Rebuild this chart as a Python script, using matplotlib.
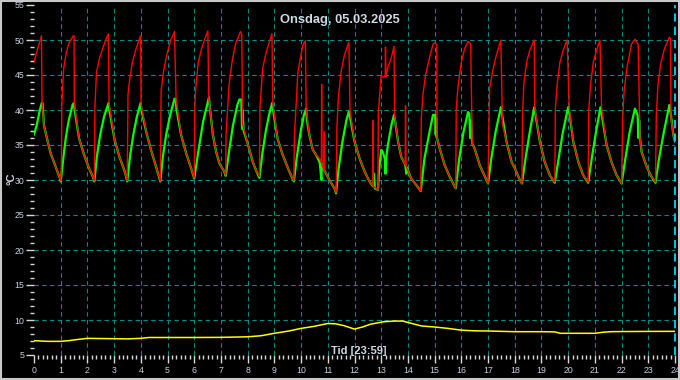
import matplotlib
matplotlib.use("Agg")
import matplotlib.pyplot as plt
from matplotlib.ticker import MultipleLocator
from matplotlib.patches import Rectangle

title = "Onsdag, 05.03.2025"
xlabel_text = "Tid [23:59]"
ylabel_text = "°C"
x_ticks = list(range(0, 25))
y_ticks = list(range(5, 56, 5))

red_t = [0.0, 0.08, 0.18, 0.28, 0.30, 0.375, 0.5, 0.625, 0.81, 0.975, 1.0,
         1.03, 1.04, 1.07, 1.11, 1.2, 1.3, 1.47, 1.50, 1.51, 1.69, 1.875, 2.06, 2.2, 2.26,
         2.28, 2.34, 2.46, 2.61, 2.78, 2.81, 3.02, 3.2, 3.4, 3.49,
         3.52, 3.56, 3.68, 3.8, 3.99, 4.01, 4.2, 4.38, 4.57, 4.73,
         4.76, 4.85, 4.98, 5.12, 5.26, 5.32, 5.51, 5.7, 5.88, 6.0,
         6.02, 6.06, 6.15, 6.27, 6.39, 6.51, 6.54, 6.7, 6.82, 6.94, 7.12, 7.18,
         7.19, 7.25, 7.3, 7.42, 7.55, 7.73, 7.78, 7.81, 8.0, 8.19, 8.31, 8.44,
         8.46, 8.56, 8.69, 8.91, 8.94, 9.12, 9.31, 9.56, 9.73,
         9.75, 9.81, 9.88, 9.98, 10.06, 10.16, 10.19, 10.31, 10.44, 10.56, 10.7, 10.76, 10.77, 10.78,
         10.85, 10.87, 10.88, 11.06, 11.25, 11.31,
         11.33, 11.34, 11.4, 11.5, 11.62, 11.79, 11.83, 12.0, 12.19, 12.38, 12.56, 12.68, 12.69, 12.7, 12.88,
         12.89, 12.94, 13.0, 13.06, 13.15, 13.16, 13.18, 13.25, 13.38, 13.48, 13.5, 13.63, 13.75, 13.9,
         13.91, 13.93, 14.12, 14.31, 14.48,
         14.5, 14.56, 14.66, 14.81, 14.94, 15.0, 15.08, 15.09, 15.19, 15.38, 15.56, 15.79,
         15.81, 15.88, 16.0, 16.12, 16.25, 16.35, 16.41, 16.5, 16.69, 16.88, 17.0,
         17.04, 17.06, 17.19, 17.31, 17.48, 17.54, 17.69, 17.88, 18.0, 18.19, 18.27,
         18.29, 18.34, 18.44, 18.56, 18.73, 18.75, 18.94, 19.12, 19.31, 19.5,
         19.52, 19.59, 19.69, 19.81, 19.96, 20.04, 20.19, 20.38, 20.56, 20.75,
         20.77, 20.84, 20.94, 21.06, 21.19, 21.25, 21.44, 21.62, 21.81, 22.0,
         22.04, 22.1, 22.2, 22.37, 22.5, 22.62, 22.69, 22.75, 22.94, 23.1, 23.27,
         23.3, 23.36, 23.46, 23.6, 23.79, 23.83, 23.85, 23.94, 24.0]
red_v = [46.8, 48.0, 49.3, 50.6, 41.4, 37.8, 35.7, 33.8, 31.9, 30.2, 29.9,
         33.0, 40.5, 43.0, 45.9, 48.0, 49.5, 50.6, 50.6, 41.0, 35.9, 33.6, 31.7, 30.5, 29.9,
         40.4, 45.4, 47.5, 49.2, 50.9, 41.0, 35.7, 33.3, 31.2, 29.9,
         42.3, 43.7, 46.8, 48.5, 50.6, 40.8, 36.9, 34.3, 31.9, 29.9,
         42.8, 45.5, 48.0, 50.0, 51.2, 41.6, 36.4, 33.8, 31.7, 30.3,
         40.4, 43.3, 46.8, 48.7, 50.1, 51.3, 41.8, 36.4, 34.0, 32.4, 31.2, 30.7,
         36.4, 40.4, 43.5, 47.0, 49.5, 51.2, 50.8, 38.0, 35.2, 32.6, 31.4, 30.5,
         40.4, 45.9, 48.2, 50.9, 41.0, 35.9, 33.6, 31.2, 29.9,
         36.2, 40.5, 45.4, 47.5, 49.2, 49.9, 40.2, 36.4, 34.3, 33.6, 33.0, 32.5, 43.7, 32.3,
         31.5, 36.9, 31.3, 30.0, 28.8, 28.2,
         32.6, 37.5, 42.0, 45.5, 47.8, 49.7, 40.0, 35.5, 33.1, 31.2, 29.8, 29.2, 38.5, 29.1, 28.6,
         39.2, 42.1, 45.0, 44.7, 44.8, 49.0, 44.7, 46.1, 47.5, 49.1, 39.3, 35.5, 33.3, 32.2,
         40.6, 32.0, 30.2, 29.3, 28.4,
         38.8, 42.1, 45.0, 47.5, 49.4, 49.6, 49.4, 36.0, 34.5, 32.1, 30.5, 28.8,
         40.2, 43.5, 46.8, 48.7, 49.8, 49.5, 35.2, 34.5, 32.1, 30.5, 29.5,
         39.5, 43.1, 45.9, 47.8, 50.0, 38.0, 35.5, 32.6, 31.7, 30.0, 29.5,
         39.2, 43.7, 46.8, 48.5, 50.0, 40.4, 35.5, 32.6, 30.7, 29.7,
         40.2, 43.7, 46.8, 48.5, 50.0, 40.4, 35.5, 32.6, 30.7, 29.7,
         40.0, 43.7, 46.8, 48.5, 50.0, 40.4, 35.0, 32.6, 30.7, 29.5,
         38.8, 43.0, 46.0, 49.4, 50.1, 49.4, 36.0, 34.0, 31.9, 30.6, 29.7,
         39.2, 43.5, 46.5, 48.7, 50.4, 50.2, 38.8, 36.4, 35.5]

green_t = [0.0, 0.1, 0.22, 0.29, 0.32, 0.375, 0.5, 0.625, 0.81, 0.975, 1.0,
           1.1, 1.2, 1.3, 1.45, 1.5, 1.52, 1.69, 1.875, 2.06, 2.2, 2.26,
           2.36, 2.48, 2.62, 2.79, 2.82, 3.02, 3.2, 3.4, 3.49,
           3.6, 3.72, 3.85, 3.99, 4.02, 4.2, 4.38, 4.57, 4.73,
           4.83, 4.95, 5.1, 5.26, 5.3, 5.34, 5.51, 5.7, 5.88, 6.0,
           6.15, 6.33, 6.55, 6.58, 6.7, 6.82, 6.94, 7.12, 7.18,
           7.3, 7.45, 7.62, 7.69, 7.76, 7.79, 7.81, 7.85, 8.0, 8.19, 8.31, 8.44,
           8.55, 8.68, 8.8, 8.92, 8.96, 9.12, 9.31, 9.56, 9.73,
           9.85, 9.98, 10.1, 10.19, 10.22, 10.31, 10.44, 10.56, 10.7, 10.76, 10.78, 10.85, 11.06, 11.25, 11.31,
           11.4, 11.55, 11.7, 11.79, 11.83, 12.0, 12.19, 12.38, 12.56, 12.69, 12.73, 12.76, 12.88,
           12.91, 13.0, 13.06, 13.14, 13.16, 13.2, 13.25, 13.38, 13.48, 13.52, 13.63, 13.75, 13.9,
           13.94, 13.96, 14.12, 14.31, 14.48,
           14.62, 14.81, 14.94, 15.02, 15.04, 15.06, 15.09, 15.19, 15.38, 15.56, 15.79,
           15.92, 16.08, 16.25, 16.3, 16.33, 16.36, 16.41, 16.5, 16.69, 16.88, 17.0,
           17.12, 17.28, 17.48, 17.54, 17.69, 17.88, 18.0, 18.19, 18.27,
           18.4, 18.56, 18.73, 18.77, 18.94, 19.12, 19.31, 19.5,
           19.64, 19.8, 20.0, 20.05, 20.19, 20.38, 20.56, 20.75,
           20.88, 21.04, 21.21, 21.27, 21.44, 21.62, 21.81, 22.0,
           22.14, 22.3, 22.5, 22.6, 22.63, 22.66, 22.69, 22.75, 22.94, 23.1, 23.27,
           23.4, 23.58, 23.79, 23.84, 23.94, 24.0]
green_v = [36.5, 37.8, 40.0, 41.0, 41.0, 37.8, 35.7, 33.8, 31.9, 30.2, 29.8,
           33.2, 36.3, 38.5, 40.8, 41.0, 40.0, 35.9, 33.6, 31.7, 30.5, 29.8,
           33.5, 36.5, 39.0, 41.0, 40.0, 35.7, 33.3, 31.2, 29.8,
           33.5, 36.5, 39.0, 41.0, 40.0, 36.9, 34.3, 31.9, 29.8,
           33.5, 36.5, 39.3, 41.6, 41.6, 40.0, 36.4, 33.8, 31.7, 30.2,
           34.0, 38.3, 41.8, 40.5, 36.4, 34.0, 32.4, 31.2, 30.6,
           34.0, 37.8, 40.8, 41.5, 41.5, 37.3, 40.0, 37.0, 35.2, 32.6, 31.4, 30.3,
           33.8, 37.0, 39.3, 41.0, 39.8, 35.9, 33.6, 31.2, 29.8,
           33.5, 36.8, 39.2, 40.2, 38.5, 36.4, 34.3, 33.6, 32.5, 30.0, 32.3, 31.5, 30.0, 28.8, 28.1,
           31.5, 35.5, 38.6, 39.8, 39.0, 35.5, 33.1, 31.2, 29.8, 29.1, 30.9, 28.8, 28.6,
           30.9, 34.3, 34.0, 33.0, 30.9, 33.5, 35.0, 37.8, 39.3, 38.5, 35.5, 33.3, 32.2,
           30.9, 31.8, 30.2, 29.3, 28.4,
           33.1, 36.9, 39.3, 39.3, 36.5, 38.8, 36.0, 34.5, 32.1, 30.5, 28.8,
           33.0, 36.8, 39.7, 39.5, 36.0, 38.5, 35.2, 34.5, 32.1, 30.5, 29.5,
           33.0, 36.8, 40.4, 39.0, 35.5, 32.6, 31.7, 30.0, 29.5,
           33.0, 36.8, 40.4, 39.5, 35.5, 32.6, 30.7, 29.6,
           33.0, 36.8, 40.4, 39.5, 35.5, 32.6, 30.7, 29.6,
           33.0, 36.8, 40.4, 39.0, 35.0, 32.6, 30.7, 29.5,
           33.0, 36.8, 40.2, 39.3, 36.0, 38.5, 36.0, 34.0, 31.9, 30.6, 29.6,
           33.0, 36.8, 40.7, 39.5, 36.4, 35.5]

yellow_t = [0, 0.5, 1.0, 1.3, 1.6, 2.0, 2.5, 3.0, 3.5, 4.0, 4.3, 5.0, 6.0, 7.0, 8.0, 8.5,
            9.0, 9.5, 10.0, 10.5, 11.0, 11.3, 11.6, 12.0, 12.3, 12.6, 13.1, 13.5, 13.8,
            14.0, 14.5, 15.0, 15.5, 16.0, 16.5, 17.0, 18.0, 19.0, 19.5, 19.7, 20.0, 21.0,
            21.3, 21.6, 22.0, 23.0, 24.0]
yellow_v = [7.05, 6.95, 6.95, 7.05, 7.2, 7.38, 7.35, 7.33, 7.3, 7.38, 7.5, 7.5, 7.5, 7.52, 7.6, 7.75,
            8.1, 8.4, 8.8, 9.1, 9.5, 9.45, 9.2, 8.7, 9.0, 9.4, 9.75, 9.85, 9.85,
            9.65, 9.15, 9.0, 8.8, 8.55, 8.45, 8.43, 8.33, 8.33, 8.3, 8.1, 8.1, 8.1,
            8.25, 8.33, 8.35, 8.37, 8.38]

W, H = 680, 380
plt.rcParams['font.family'] = ['Liberation Sans', 'DejaVu Sans']
fig = plt.figure(figsize=(W / 100, H / 100), dpi=100, facecolor='black')
ax = fig.add_axes([34 / W, 25 / H, 641 / W, 350 / H])
ax.set_facecolor('black')

grid_col = '#008a8a'
for gx in x_ticks[1:-1]:
    ax.axvline(gx, color=grid_col, lw=0.8, dashes=(4, 3), zorder=1)
for gy in y_ticks[1:-1]:
    ax.axhline(gy, color=grid_col, lw=0.8, dashes=(4, 3), zorder=1)
ax.axvline(24, color='#00e5ff', lw=1.2, dashes=(5, 3), zorder=5, clip_on=False)

ax.plot(yellow_t, yellow_v, color='#ffff00', lw=1.1, zorder=3)
ax.plot(green_t, green_v, color='#00ff00', lw=1.6, zorder=3)
ax.plot(red_t, red_v, color='#ff0000', lw=1.0, zorder=4)

ax.set_xlim(0, 24)
ax.set_ylim(5, 55)
ax.set_xticks(x_ticks)
ax.set_yticks(y_ticks)
ax.xaxis.set_minor_locator(MultipleLocator(1 / 6))
ax.yaxis.set_minor_locator(MultipleLocator(1))
lab_col = '#c8d2e0'
ax.tick_params(axis='both', which='major', colors='#d8d8d8', labelcolor=lab_col,
               labelsize=6.3, width=1, length=6)
ax.tick_params(axis='both', which='minor', colors='#d8d8d8', width=1, length=3)
ax.tick_params(axis='y', which='major', pad=1)
ax.tick_params(axis='x', which='major', pad=2)
for s in ax.spines.values():
    s.set_visible(False)

fig.text(0.5, 1 - 22.7 / H, title, ha='center', va='baseline', color='#d0d8e2',
         fontsize=9.3, fontweight='bold')
fig.text(359 / W, 1 - 354 / H, xlabel_text, ha='center', va='baseline', color='#d0d8e2',
         fontsize=8, fontweight='bold')
fig.text(11 / W, 1 - 179 / H, ylabel_text, ha='center', va='center', color='#d0d8e2',
         fontsize=8, fontweight='bold', rotation=90)

fig.patches.append(Rectangle((1 / W, 1 / H), (W - 2) / W, (H - 2) / H, transform=fig.transFigure,
                             fill=False, edgecolor='#c8c8c8', lw=1.5, figure=fig))

fig.savefig('out.png', dpi=100, facecolor='black')
